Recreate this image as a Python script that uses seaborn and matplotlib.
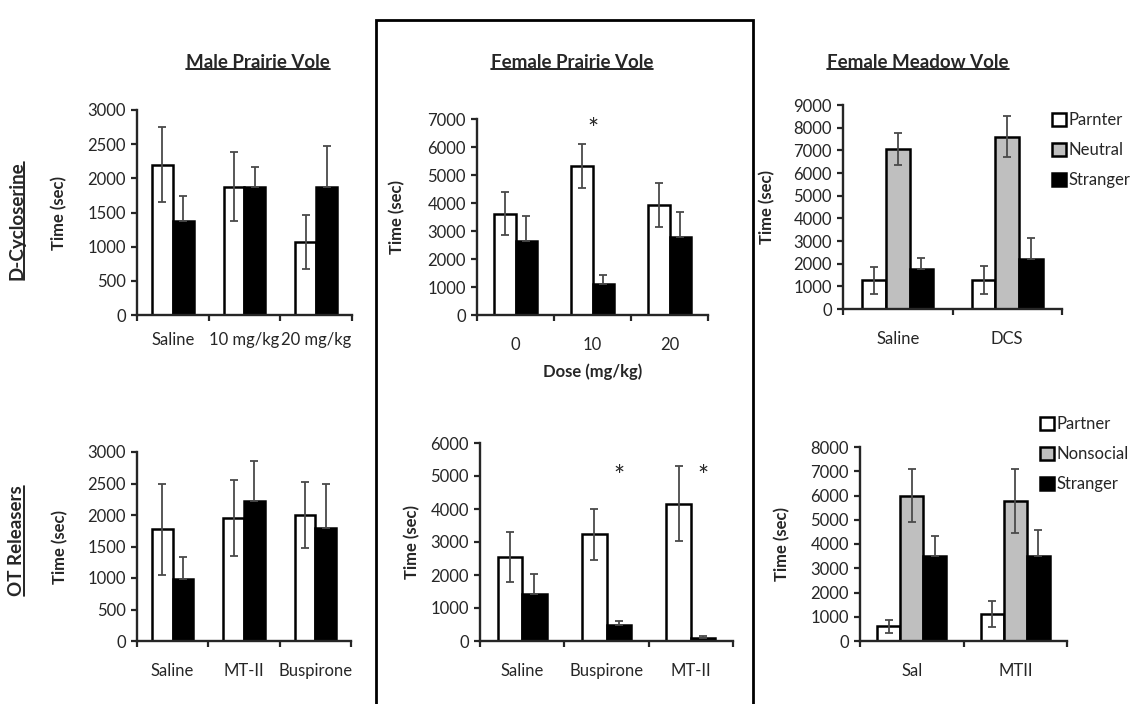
import matplotlib
matplotlib.use("Agg")
import matplotlib.pyplot as plt
from matplotlib.lines import Line2D
from matplotlib.patches import Rectangle
import numpy as np
import pandas as pd
import seaborn as sns

# ---------------- data ----------------
male_dcs_groups = ["Saline", "10 mg/kg", "20 mg/kg"]
male_dcs_partner = [2200, 1880, 1070]
male_dcs_partner_err = [550, 510, 400]
male_dcs_stranger = [1370, 1880, 1880]
male_dcs_stranger_err = [370, 290, 590]

fem_dcs_groups = ["0", "10", "20"]
fem_dcs_partner = [3620, 5320, 3930]
fem_dcs_partner_err = [760, 800, 800]
fem_dcs_stranger = [2650, 1120, 2780]
fem_dcs_stranger_err = [880, 300, 900]

meadow_dcs_groups = ["Saline", "DCS"]
meadow_dcs_labels = ["Parnter", "Neutral", "Stranger"]
meadow_dcs_partner = [1260, 1290]
meadow_dcs_partner_err = [600, 620]
meadow_dcs_neutral = [7050, 7600]
meadow_dcs_neutral_err = [700, 900]
meadow_dcs_stranger = [1780, 2200]
meadow_dcs_stranger_err = [480, 920]

male_ot_groups = ["Saline", "MT-II", "Buspirone"]
male_ot_partner = [1770, 1950, 2000]
male_ot_partner_err = [720, 600, 520]
male_ot_stranger = [990, 2220, 1800]
male_ot_stranger_err = [345, 630, 700]

fem_ot_groups = ["Saline", "Buspirone", "MT-II"]
fem_ot_partner = [2540, 3230, 4160]
fem_ot_partner_err = [760, 770, 1140]
fem_ot_stranger = [1410, 470, 100]
fem_ot_stranger_err = [620, 140, 40]

meadow_ot_groups = ["Sal", "MTII"]
meadow_ot_labels = ["Partner", "Nonsocial", "Stranger"]
meadow_ot_partner = [600, 1100]
meadow_ot_partner_err = [250, 540]
meadow_ot_nonsocial = [6000, 5770]
meadow_ot_nonsocial_err = [1100, 1320]
meadow_ot_stranger = [3490, 3490]
meadow_ot_stranger_err = [840, 1100]

col_titles = ["Male Prairie Vole", "Female Prairie Vole", "Female Meadow Vole"]
row_titles = ["D-Cycloserine", "OT Releasers"]

# ---------------- style ----------------
sns.set_theme(style="ticks")
plt.rcParams["font.family"] = ["Lato", "DejaVu Sans"]
plt.rcParams["axes.linewidth"] = 1.7

W, H = 1139, 704
fig = plt.figure(figsize=(W / 100, H / 100), dpi=100)

TICK_FS = 12
LAB_FS = 12


def px_axes(x0, x1, ytop, ybot):
    return fig.add_axes([x0 / W, 1 - ybot / H, (x1 - x0) / W, (ybot - ytop) / H])


def panel(ax, groups, labels, series, errs, colors, width, ymax, ystep,
          legend_anchor=None, xpad=17, ylab_x=-0.3):
    rows = []
    for lab, vals in zip(labels, series):
        for g, v in zip(groups, vals):
            rows.append({"group": g, "series": lab, "value": v})
    df = pd.DataFrame(rows)
    sns.barplot(data=df, x="group", y="value", hue="series", order=groups,
                hue_order=labels, palette=colors, width=width, gap=0,
                edgecolor="black", linewidth=1.8, errorbar=None, ax=ax,
                legend=legend_anchor is not None)
    # error bars: upper only for black bars
    for cont, err, col in zip(ax.containers, errs, colors):
        xs = [b.get_x() + b.get_width() / 2 for b in cont]
        hs = [b.get_height() for b in cont]
        lower = [0] * len(err) if col == "black" else err
        ax.errorbar(xs, hs, yerr=[lower, err], fmt="none", ecolor="#4a4a4a",
                    elinewidth=1.3, capsize=3, capthick=1.3, zorder=1.5)
    ax.set_ylim(0, ymax)
    ax.set_xlim(-0.5, len(groups) - 0.5)
    ax.set_yticks(np.arange(0, ymax + 1, ystep))
    ax.set_xticks(np.arange(len(groups) + 1) - 0.5, minor=True)
    ax.tick_params(axis="x", which="major", length=0, pad=xpad, labelsize=TICK_FS)
    ax.tick_params(axis="x", which="minor", length=4, width=1.6, direction="out")
    ax.tick_params(axis="y", length=4, width=1.6, direction="out",
                   labelsize=TICK_FS, pad=4)
    sns.despine(ax=ax)
    ax.set_xlabel("")
    ax.set_ylabel("Time (sec)", fontsize=LAB_FS, fontweight="bold")
    ax.yaxis.set_label_coords(ylab_x, 0.5)
    if legend_anchor is not None:
        ax.legend(loc="upper left", bbox_to_anchor=legend_anchor,
                  bbox_transform=fig.transFigure, frameon=False,
                  handlelength=0.85, handleheight=0.85, handletextpad=0.15,
                  labelspacing=0.85, fontsize=12, borderaxespad=0,
                  borderpad=0)


two = ["white", "black"]
three = ["white", "#bfbfbf", "black"]

ax1 = px_axes(137, 352, 110, 315)
panel(ax1, male_dcs_groups, ["Partner", "Stranger"],
      [male_dcs_partner, male_dcs_stranger],
      [male_dcs_partner_err, male_dcs_stranger_err], two, 0.58, 3000, 500,
      xpad=12, ylab_x=-0.325)

ax2 = px_axes(477, 708, 119, 315)
panel(ax2, fem_dcs_groups, ["Partner", "Stranger"],
      [fem_dcs_partner, fem_dcs_stranger],
      [fem_dcs_partner_err, fem_dcs_stranger_err], two, 0.57, 7000, 1000,
      xpad=16, ylab_x=-0.31)
ax2.set_xlabel("Dose (mg/kg)", fontsize=LAB_FS, fontweight="bold", labelpad=7)
ax2.text(1, 6600, "*", ha="center", va="center", fontsize=19)

ax3 = px_axes(843, 1062, 105, 309)
panel(ax3, meadow_dcs_groups, meadow_dcs_labels,
      [meadow_dcs_partner, meadow_dcs_neutral, meadow_dcs_stranger],
      [meadow_dcs_partner_err, meadow_dcs_neutral_err, meadow_dcs_stranger_err],
      three, 0.65, 9000, 1000, legend_anchor=(1052 / W, 1 - 112 / H),
      xpad=16, ylab_x=-0.31)

ax4 = px_axes(137, 351, 452, 641)
panel(ax4, male_ot_groups, ["Partner", "Stranger"],
      [male_ot_partner, male_ot_stranger],
      [male_ot_partner_err, male_ot_stranger_err], two, 0.58, 3000, 500,
      xpad=16, ylab_x=-0.32)

ax5 = px_axes(480, 733, 443, 641)
panel(ax5, fem_ot_groups, ["Partner", "Stranger"],
      [fem_ot_partner, fem_ot_stranger],
      [fem_ot_partner_err, fem_ot_stranger_err], two, 0.58, 6000, 1000,
      xpad=16, ylab_x=-0.236)
for xi in [1.145, 2.145]:
    ax5.text(xi, 4950, "*", ha="center", va="center", fontsize=19)

ax6 = px_axes(860, 1067, 447, 641)
panel(ax6, meadow_ot_groups, meadow_ot_labels,
      [meadow_ot_partner, meadow_ot_nonsocial, meadow_ot_stranger],
      [meadow_ot_partner_err, meadow_ot_nonsocial_err, meadow_ot_stranger_err],
      three, 0.67, 8000, 1000, legend_anchor=(1040 / W, 1 - 416 / H),
      xpad=16, ylab_x=-0.337)

# ---------------- titles (underlined) ----------------
title_texts = []
for name, xc in zip(col_titles, [258, 572, 918]):
    t = fig.text(xc / W, 1 - 62 / H, name, ha="center", va="center",
                 fontsize=13.5, fontweight="bold")
    title_texts.append(t)
row_texts = []
for name, yc in zip(row_titles, [221, 541]):
    t = fig.text(17 / W, 1 - yc / H, name, ha="center", va="center",
                 rotation=90, fontsize=13.5, fontweight="bold")
    row_texts.append(t)

# box around the female prairie vole column
fig.add_artist(Rectangle((376 / W, -0.02), (753 - 376) / W, (704 - 20) / H + 0.02,
                         transform=fig.transFigure, fill=False, edgecolor="black",
                         linewidth=2, clip_on=False))

fig.canvas.draw()
r = fig.canvas.get_renderer()
inv = fig.transFigure.inverted()
for t in title_texts:
    bb = t.get_window_extent(r)
    (x0, y0), (x1, _) = inv.transform([(bb.x0, bb.y0 + 2), (bb.x1, bb.y0 + 2)])
    fig.add_artist(Line2D([x0, x1], [y0, y0], transform=fig.transFigure,
                          color="black", linewidth=1.2))
for t in row_texts:
    bb = t.get_window_extent(r)
    (x0, y0), (_, y1) = inv.transform([(bb.x1 - 2, bb.y0), (bb.x1 - 2, bb.y1)])
    fig.add_artist(Line2D([x0, x0], [y0, y1], transform=fig.transFigure,
                          color="black", linewidth=1.2))

fig.savefig("out.png", dpi=100)
